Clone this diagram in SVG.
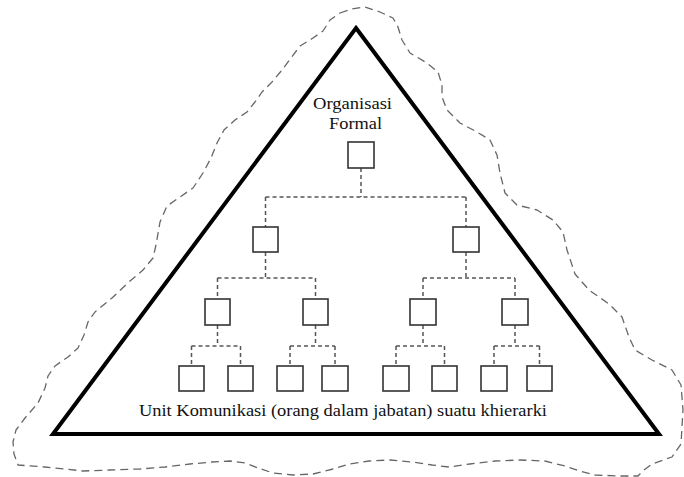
<svg xmlns="http://www.w3.org/2000/svg" width="684" height="477" viewBox="0 0 684 477">
<style>
.box{fill:#fff;stroke:#333;stroke-width:1.6}
.conn{fill:none;stroke:#555;stroke-width:1.5;stroke-dasharray:4 3}
.lbl{font-family:"Liberation Serif","DejaVu Serif",serif;fill:#111}
</style>
<rect width="684" height="477" fill="#fff"/>
<g id="outline">
<path fill="none" stroke="#666" stroke-width="1.3" stroke-dasharray="8 5" stroke-linejoin="round" d="M340,13 L352,9 L365,7 L380,12 L393,18 L398,27 L402,40 L410,53 L427,63 L438,72 L442,85 L442,97 L447,110 L460,123 L477,132 L490,140 L497,155 L500,173 L505,193 L517,205 L537,210 L553,220 L563,232 L567,250 L575,274 L589,290 L609,304 L622,317 L629,337 L635,350 L652,360 L672,370 L681,385 L683,410 L681,444 L672,457 L652,464 L644,470 L638,476 L620,476 L595,475 L580,471 L565,466 L545,461 L520,460 L495,461 L470,464 L449,467 L432,465 L412,462 L390,460 L369,461 L349,464 L333,469 L313,474 L293,475 L273,473 L258,468 L245,463 L230,461 L212,462 L190,464 L165,467 L140,469 L110,470 L83,471 L65,469 L45,467 L18,465 L14,454 L13,442 L16,430 L25,418 L38,403 L45,388 L48,376 L55,366 L68,357 L78,348 L84,335 L88,322 L95,312 L112,298 L130,281 L143,270 L153,258 L156,245 L160,222 L167,206 L180,197 L193,188 L203,173 L211,158 L217,143 L224,130 L235,120 L247,112 L255,102 L262,92 L272,82 L282,70 L291,58 L300,46 L313,38 L323,31 L330,20 Z"/>
</g>
<g id="triangle">
<polygon points="356,28 659,434 53,434" fill="none" stroke="#000" stroke-width="4" stroke-linejoin="miter"/>
</g>
<g id="connectors">
<path class="conn" d="M361,168 V197 M265.5,197 H466 M265.5,197 V227 M466,197 V227"/>
<path class="conn" d="M265.5,252 V278 M217.5,278 H315.5 M217.5,278 V299 M315.5,278 V299"/>
<path class="conn" d="M466,252 V278 M423,278 H515 M423,278 V299 M515,278 V299"/>
<path class="conn" d="M217.5,325 V346 M191.5,346 H240.5 M191.5,346 V366 M240.5,346 V366"/>
<path class="conn" d="M315.5,325 V346 M290,346 H335 M290,346 V366 M335,346 V366"/>
<path class="conn" d="M423,325 V346 M396,346 H444.5 M396,346 V366 M444.5,346 V366"/>
<path class="conn" d="M515,325 V346 M494,346 H539.5 M494,346 V366 M539.5,346 V366"/>
</g>
<g id="n1"><rect class="box" x="348" y="142" width="26" height="26"/></g>
<g id="n2a"><rect class="box" x="253" y="227" width="25" height="25"/></g>
<g id="n2b"><rect class="box" x="453" y="227" width="26" height="25"/></g>
<g id="n3a"><rect class="box" x="205" y="299" width="25" height="26"/></g>
<g id="n3b"><rect class="box" x="303" y="299" width="25" height="26"/></g>
<g id="n3c"><rect class="box" x="410" y="299" width="26" height="26"/></g>
<g id="n3d"><rect class="box" x="502" y="299" width="26" height="26"/></g>
<g id="n4a"><rect class="box" x="179" y="366" width="25" height="25"/></g>
<g id="n4b"><rect class="box" x="228" y="366" width="25" height="25"/></g>
<g id="n4c"><rect class="box" x="277" y="366" width="26" height="25"/></g>
<g id="n4d"><rect class="box" x="322" y="366" width="26" height="25"/></g>
<g id="n4e"><rect class="box" x="383" y="366" width="26" height="25"/></g>
<g id="n4f"><rect class="box" x="432" y="366" width="25" height="25"/></g>
<g id="n4g"><rect class="box" x="481" y="366" width="26" height="25"/></g>
<g id="n4h"><rect class="box" x="527" y="366" width="25" height="25"/></g>
<g id="labels">
<text class="lbl" x="352.5" y="109" font-size="16" text-anchor="middle" textLength="79" lengthAdjust="spacingAndGlyphs">Organisasi</text>
<text class="lbl" x="355.5" y="129" font-size="16" text-anchor="middle" textLength="53" lengthAdjust="spacingAndGlyphs">Formal</text>
<text class="lbl" x="139" y="416" font-size="17" textLength="408" lengthAdjust="spacingAndGlyphs">Unit Komunikasi (orang dalam jabatan) suatu khierarki</text>
</g>
</svg>
